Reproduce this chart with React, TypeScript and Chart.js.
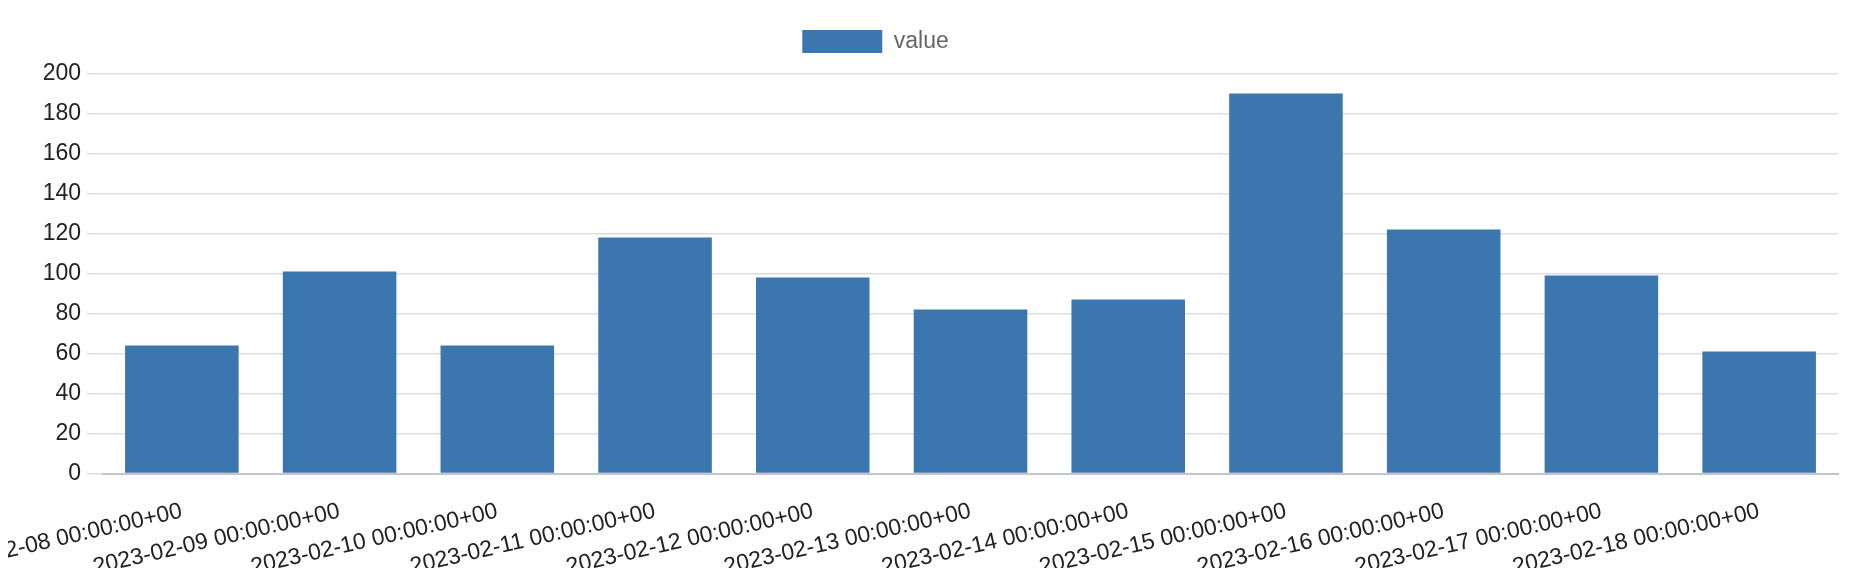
import React, { useEffect, useRef } from "react";
import { Chart, registerables } from "chart.js";

Chart.register(...registerables);

const categories = [
  "2023-02-08 00:00:00+00",
  "2023-02-09 00:00:00+00",
  "2023-02-10 00:00:00+00",
  "2023-02-11 00:00:00+00",
  "2023-02-12 00:00:00+00",
  "2023-02-13 00:00:00+00",
  "2023-02-14 00:00:00+00",
  "2023-02-15 00:00:00+00",
  "2023-02-16 00:00:00+00",
  "2023-02-17 00:00:00+00",
  "2023-02-18 00:00:00+00",
];

const values = [64, 101, 64, 118, 98, 82, 87, 190, 122, 99, 61];

const seriesName = "value";
const yMin = 0;
const yMax = 200;
const yStep = 20;

const FONT = "'Liberation Sans', Arial, Helvetica, sans-serif";

const legendTweak = {
  id: "legendTweak",
  beforeLayout(chart: any) {
    const lg = chart.legend;
    if (lg && !lg.__patched) {
      const orig = lg.fit.bind(lg);
      lg.fit = function () {
        orig();
        this.height = 59.5;
      };
      lg.__patched = true;
    }
  },
  afterLayout(chart: any) {
    const lg = chart.legend;
    if (lg) {
      lg.left -= 95;
    }
  },
};

export default function App() {
  const ref = useRef<HTMLCanvasElement | null>(null);

  useEffect(() => {
    if (!ref.current) return;
    const chart = new Chart(ref.current, {
      type: "bar",
      data: {
        labels: categories,
        datasets: [
          {
            label: seriesName,
            data: values,
            backgroundColor: "#3b76af",
            borderWidth: 0,
            categoryPercentage: 1,
            barPercentage: 0.72,
          },
        ],
      },
      plugins: [legendTweak],
      options: {
        animation: false,
        responsive: true,
        maintainAspectRatio: false,
        layout: { padding: { top: 6, right: 10, left: 0, bottom: 0 } },
        plugins: {
          tooltip: { enabled: false },
          legend: {
            display: true,
            position: "top",
            labels: {
              boxWidth: 80,
              boxHeight: 23,
              padding: 16,
              color: "#666666",
              font: { family: FONT, size: 23 },
            },
          },
        },
        scales: {
          x: {
            grid: { display: false },
            border: { display: true, color: "#c2c5d0", width: 2 },
            ticks: {
              autoSkip: false,
              minRotation: 13,
              maxRotation: 13,
              padding: 16,
              color: "#222222",
              font: { family: FONT, size: 23 },
            },
            afterFit(scale: any) {
              scale.height = 94.5;
              scale.paddingLeft = 0;
              scale.paddingRight = 0;
            },
          },
          y: {
            min: yMin,
            max: yMax,
            grid: {
              color: "#dcdde5",
              lineWidth: 1.5,
              drawTicks: true,
              tickLength: 16,
              tickColor: "#dcdde5",
            },
            border: { display: false },
            ticks: {
              stepSize: yStep,
              padding: 6,
              color: "#222222",
              font: { family: FONT, size: 23 },
            },
            afterFit(scale: any) {
              scale.width = 95;
            },
          },
        },
      },
    });
    return () => chart.destroy();
  }, []);

  return (
    <div style={{ width: 1840, height: 560, position: "relative" }}>
      <canvas ref={ref} />
    </div>
  );
}
